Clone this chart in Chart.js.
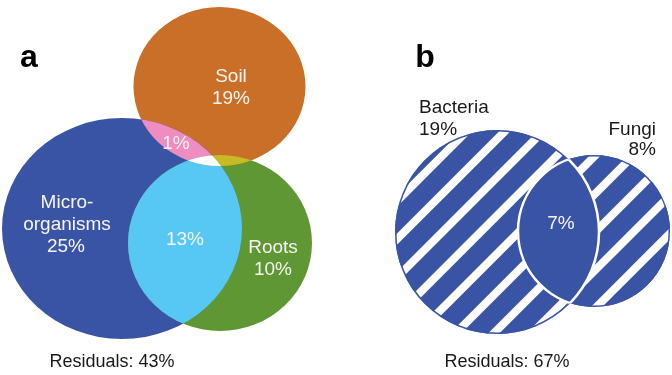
<!DOCTYPE html>
<html>
<head>
<meta charset="utf-8">
<script src="https://cdn.jsdelivr.net/npm/chart.js@4.4.1/dist/chart.umd.min.js"></script>
<style>
  html, body { margin: 0; padding: 0; background: #fff; }
  #caja { position: relative; width: 672px; height: 375px; }
</style>
</head>
<body>
<div id="caja"><canvas id="grafica"></canvas></div>
<script>
// Datos del panel a (porcentajes de varianza explicada)
const conjuntosA = ['Soil', 'Micro-organisms', 'Roots'];
const porcentajesA = [19, 25, 10];
const solapesA = [1, 13];          // Soil∩Micro, Micro∩Roots
const residualA = 43;

// Datos del panel b
const conjuntosB = ['Bacteria', 'Fungi'];
const porcentajesB = [19, 8];
const solapeB = 7;
const residualB = 67;

// Geometría de las elipses (unidades de la escala, 0..672 x 0..375)
const elipsesA = [
    { cx: 219.5, cy: 86.5, rx: 86, ry: 79.5 },   // Soil
    { cx: 122, cy: 228.5, rx: 120, ry: 110.5 },  // Micro-organisms
    { cx: 220, cy: 243, rx: 92, ry: 88 }         // Roots
];
const elipsesB = [
    { cx: 497, cy: 232, rx: 102, ry: 102 },      // Bacteria
    { cx: 594, cy: 231, rx: 76, ry: 76 }         // Fungi
];

const colores = {
    soil: '#c96f28',
    micro: '#3a54a5',
    roots: '#5e9733',
    microRoots: '#57c8f3',
    microSoil: '#ef8cc0',
    soilRoots: '#c9b922',
    triple: '#ffffff',
    texto: '#f6f4f0'
};

// Convierte una elipse en coordenadas de escala a píxeles
function aPixeles(chart, e) {
    const x = chart.scales.x, y = chart.scales.y;
    const px = x.getPixelForValue(e.cx), py = y.getPixelForValue(e.cy);
    return {
        x: px, y: py,
        rx: Math.abs(x.getPixelForValue(e.cx + e.rx) - px),
        ry: Math.abs(y.getPixelForValue(e.cy + e.ry) - py)
    };
}

function trazar(ctx, p) {
    ctx.beginPath();
    ctx.ellipse(p.x, p.y, p.rx, p.ry, 0, 0, Math.PI * 2);
}

function rellenar(ctx, color, forma, recortes) {
    ctx.save();
    recortes.forEach(r => { trazar(ctx, r); ctx.clip(); });
    trazar(ctx, forma);
    ctx.fillStyle = color;
    ctx.fill();
    ctx.restore();
}

function rayas(ctx, p, periodo, inicio) {
    ctx.save();
    trazar(ctx, p);
    ctx.clip();
    ctx.strokeStyle = '#ffffff';
    ctx.lineWidth = 8;
    const paso = periodo * Math.SQRT2;
    const x0 = p.x - p.rx - 20, x1 = p.x + p.rx + 20;
    const cMin = x0 + p.y - p.ry - 20, cMax = x1 + p.y + p.ry + 20;
    let c = inicio - Math.ceil((inicio - cMin) / paso) * paso;
    for (; c <= cMax; c += paso) {
        ctx.beginPath();
        ctx.moveTo(x0, c - x0);
        ctx.lineTo(x1, c - x1);
        ctx.stroke();
    }
    ctx.restore();
    // borde fino azul
    ctx.save();
    trazar(ctx, p);
    ctx.clip();
    trazar(ctx, p);
    ctx.strokeStyle = colores.micro;
    ctx.lineWidth = 3;
    ctx.stroke();
    ctx.restore();
}

function texto(chart, ctx, t, vx, vy, opciones) {
    const px = chart.scales.x.getPixelForValue(vx);
    const py = chart.scales.y.getPixelForValue(vy);
    ctx.font = opciones.font;
    ctx.fillStyle = opciones.color;
    ctx.textAlign = opciones.align || 'center';
    ctx.textBaseline = 'alphabetic';
    ctx.fillText(t, px, py);
}

const pluginVenn = {
    id: 'venn',
    beforeDatasetsDraw(chart) {
        const ctx = chart.ctx;
        const [soil, micro, roots] = elipsesA.map(e => aPixeles(chart, e));
        const [bact, fungi] = elipsesB.map(e => aPixeles(chart, e));

        // Panel a
        rellenar(ctx, colores.soil, soil, []);
        rellenar(ctx, colores.micro, micro, []);
        rellenar(ctx, colores.roots, roots, []);
        rellenar(ctx, colores.microSoil, soil, [micro]);
        rellenar(ctx, colores.soilRoots, soil, [roots]);
        rellenar(ctx, colores.microRoots, roots, [micro]);
        rellenar(ctx, colores.triple, soil, [micro, roots]);

        // Panel b
        rellenar(ctx, colores.micro, bact, []);
        rayas(ctx, bact, 27, 598);
        rellenar(ctx, colores.micro, fungi, []);
        rayas(ctx, fungi, 27, 598);
        rellenar(ctx, colores.micro, fungi, [bact]);
        ctx.save();
        ctx.strokeStyle = '#ffffff';
        ctx.lineWidth = 2.5;
        trazar(ctx, fungi); ctx.clip();
        trazar(ctx, bact); ctx.stroke();
        ctx.restore();
        ctx.save();
        ctx.strokeStyle = '#ffffff';
        ctx.lineWidth = 2.5;
        trazar(ctx, bact); ctx.clip();
        trazar(ctx, fungi); ctx.stroke();
        ctx.restore();

        // Textos
        const fuente = '19px "Liberation Sans", Arial, sans-serif';
        const negrita = 'bold 32px "Liberation Sans", Arial, sans-serif';
        const blanco = { font: fuente, color: colores.texto };
        const negro = { font: fuente, color: '#1a1a1a' };

        texto(chart, ctx, 'a', 29, 67, { font: negrita, color: '#000' });
        texto(chart, ctx, 'b', 425, 67, { font: negrita, color: '#000' });

        texto(chart, ctx, conjuntosA[0], 231, 82, blanco);
        texto(chart, ctx, porcentajesA[0] + '%', 231, 104, blanco);
        texto(chart, ctx, 'Micro-', 67, 208, blanco);
        texto(chart, ctx, 'organisms', 67, 230, blanco);
        texto(chart, ctx, porcentajesA[1] + '%', 66, 252, blanco);
        texto(chart, ctx, conjuntosA[2], 273, 253, blanco);
        texto(chart, ctx, porcentajesA[2] + '%', 273, 275, blanco);
        texto(chart, ctx, solapesA[0] + '%', 176, 149, blanco);
        texto(chart, ctx, solapesA[1] + '%', 185, 245, blanco);
        texto(chart, ctx, 'Residuals: ' + residualA + '%', 112, 367,
            { font: '18px "Liberation Sans", Arial, sans-serif', color: '#1a1a1a' });

        texto(chart, ctx, conjuntosB[0], 419, 113, Object.assign({ align: 'left' }, negro));
        texto(chart, ctx, porcentajesB[0] + '%', 419, 135, Object.assign({ align: 'left' }, negro));
        texto(chart, ctx, conjuntosB[1], 656, 135, Object.assign({ align: 'right' }, negro));
        texto(chart, ctx, porcentajesB[1] + '%', 656, 155, Object.assign({ align: 'right' }, negro));
        texto(chart, ctx, solapeB + '%', 561, 229, blanco);
        texto(chart, ctx, 'Residuals: ' + residualB + '%', 507, 367,
            { font: '18px "Liberation Sans", Arial, sans-serif', color: '#1a1a1a' });
    }
};

// Cada conjunto es un punto (centro) en la gráfica de dispersión
const puntos = elipsesA.concat(elipsesB).map(e => ({ x: e.cx, y: e.cy }));

new Chart(document.getElementById('grafica'), {
    type: 'scatter',
    data: {
        datasets: [{
            label: conjuntosA.concat(conjuntosB).join(', '),
            data: puntos,
            pointRadius: 0
        }]
    },
    options: {
        responsive: true,
        maintainAspectRatio: false,
        animation: false,
        layout: { padding: 0 },
        plugins: { legend: { display: false }, tooltip: { enabled: false } },
        scales: {
            x: { type: 'linear', min: 0, max: 672, display: false },
            y: { type: 'linear', min: 0, max: 375, reverse: true, display: false }
        }
    },
    plugins: [pluginVenn]
});
</script>
</body>
</html>
